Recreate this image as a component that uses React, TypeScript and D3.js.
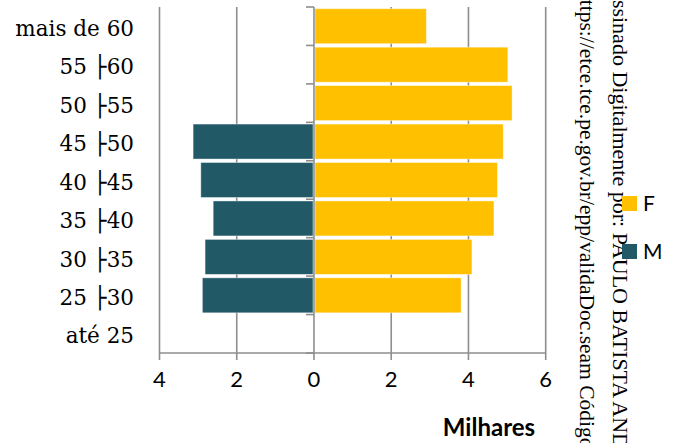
import React from "react";
import * as d3 from "d3";

const categories = [
  "mais de 60",
  "55 ├60",
  "50 ├55",
  "45 ├50",
  "40 ├45",
  "35 ├40",
  "30 ├35",
  "25 ├30",
  "até 25",
];
const femaleValues = [2.91, 5.02, 5.13, 4.9, 4.75, 4.66, 4.09, 3.81, 0];
const maleValues = [0, 0, 0, 3.13, 2.93, 2.61, 2.82, 2.89, 0];
const xTicks = [-4, -2, 0, 2, 4, 6];
const seriesNames = ["F", "M"];
const axisTitle = "Milhares";
const watermarkLines = [
  "Assinado Digitalmente por: PAULO BATISTA ANDRADE",
  "https://etce.tce.pe.gov.br/epp/validaDoc.seam Código de Autenticação",
];

const W = 680;
const H = 443;
const FEMALE = "#FFC000";
const MALE = "#215967";
const GRID = "#8e8e8e";

export default function App() {
  const x = d3.scaleLinear().domain([-4, 6]).range([159.5, 545.7]);
  const y = d3
    .scaleBand<string>()
    .domain(categories)
    .range([7, 353])
    .paddingInner(0.09)
    .paddingOuter(0.045);
  const top = 7;
  const bottom = 353;
  const boundaries = d3.range(categories.length + 1).map((i) => top + i * ((bottom - top) / categories.length));
  const colors = [FEMALE, MALE];

  return (
    <svg
      width={W}
      height={H}
      style={{ position: "fixed", left: 0, top: 0, background: "#fff" }}
      viewBox={`0 0 ${W} ${H}`}
    >
      <rect x={0} y={0} width={W} height={H} fill="#fff" />
      {/* gridlines */}
      {xTicks
        .filter((t) => t !== 0)
        .map((t) => (
          <line key={"g" + t} x1={x(t)} x2={x(t)} y1={top} y2={bottom + 7} stroke={GRID} strokeWidth={1.6} />
        ))}
      {/* bars */}
      {categories.map((c, i) =>
        femaleValues[i] > 0 ? (
          <rect
            key={"f" + c}
            x={x(0) + 1}
            y={y(c)}
            width={x(femaleValues[i]) - x(0) - 1}
            height={y.bandwidth()}
            fill={FEMALE}
            stroke="#fff"
            strokeOpacity={0.5}
            strokeWidth={0.8}
          />
        ) : null
      )}
      {categories.map((c, i) =>
        maleValues[i] > 0 ? (
          <rect
            key={"m" + c}
            x={x(-maleValues[i])}
            y={y(c)}
            width={x(0) - x(-maleValues[i]) - 1}
            height={y.bandwidth()}
            fill={MALE}
            stroke="#fff"
            strokeOpacity={0.5}
            strokeWidth={0.8}
          />
        ) : null
      )}
      {/* vertical axis */}
      <line x1={x(0)} x2={x(0)} y1={top} y2={bottom + 7} stroke={GRID} strokeWidth={1.6} />
      {boundaries.map((b, i) => (
        <line key={"t" + i} x1={x(0) - 8} x2={x(0)} y1={b} y2={b} stroke={GRID} strokeWidth={1.6} />
      ))}
      {/* bottom axis */}
      <line x1={x(-4)} x2={x(6)} y1={bottom} y2={bottom} stroke={GRID} strokeWidth={1.6} />
      {xTicks.map((t) => (
        <text
          key={"xl" + t}
          x={x(t)}
          y={387}
          textAnchor="middle"
          fontFamily="Lato, 'Open Sans', sans-serif"
          fontSize={22}
          fill="#000"
        >
          {Math.abs(t)}
        </text>
      ))}
      <text x={489} y={436} textAnchor="middle" fontFamily="Lato, 'Open Sans', sans-serif" fontWeight="bold" fontSize={24} fill="#000">
        {axisTitle}
      </text>
      {/* category labels */}
      {categories.map((c) => (
        <text
          key={"cl" + c}
          x={134}
          y={(y(c) as number) + y.bandwidth() / 2}
          dy="0.45em"
          textAnchor="end"
          fontFamily="'DejaVu Serif', serif"
          fontSize={21.5}
          fill="#000"
        >
          {c}
        </text>
      ))}
      {/* watermark */}
      <text transform="translate(613,-16) rotate(90)" fontFamily="'Liberation Serif', serif" fontSize={22} fill="#000">
        {watermarkLines[0]}
      </text>
      <text transform="translate(580,-11) rotate(90)" fontFamily="'Liberation Serif', serif" fontSize={21.5} fill="#000">
        {watermarkLines[1]}
      </text>
      {/* legend */}
      {seriesNames.map((s, i) => (
        <g key={"lg" + s} transform={`translate(622,${196 + i * 48})`}>
          <rect x={0} y={0} width={15} height={15} fill={colors[i]} />
          <text x={21} y={14.5} fontFamily="Lato, 'Open Sans', sans-serif" fontSize={21} fill="#000">
            {s}
          </text>
        </g>
      ))}
    </svg>
  );
}
